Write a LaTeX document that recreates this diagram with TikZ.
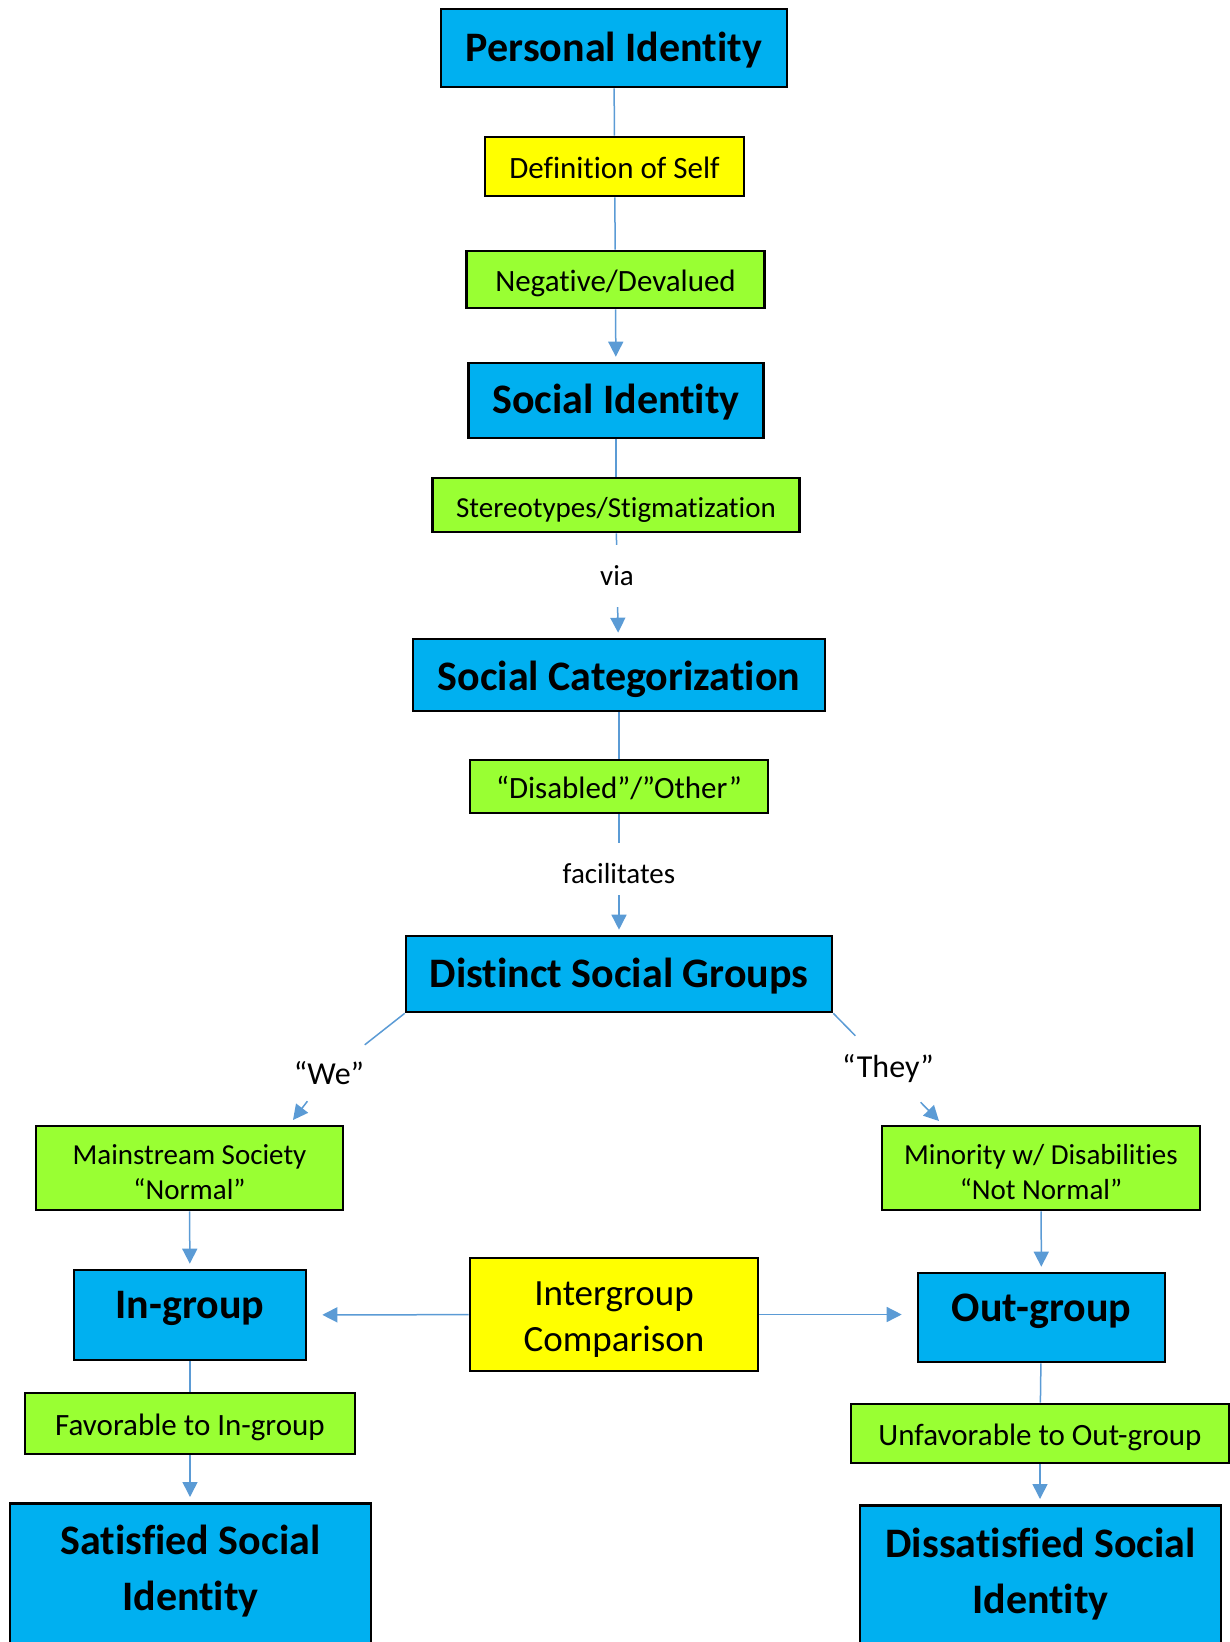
\documentclass[tikz,border=0pt]{standalone}
\usepackage{fontspec}
\setmainfont{Carlito}[Ligatures=CommonOff, RawFeature={-liga;-clig}]
\usetikzlibrary{arrows.meta}

\newlength{\du}
\setlength{\du}{1pt}

\definecolor{boxblue}{rgb}{0.000000, 0.690196, 0.941176}
\definecolor{boxgreen}{rgb}{0.600000, 1.000000, 0.200000}
\definecolor{boxyellow}{rgb}{1.000000, 1.000000, 0.000000}
\definecolor{linkblue}{rgb}{0.356863, 0.607843, 0.835294}

\tikzset{
  framebox/.style={draw=black, line width=2.600000\du, inner sep=0pt, align=center},
  bluebox/.style={framebox, fill=boxblue, font=\fontsize{42}{56}\selectfont\bfseries, text height=34\du, text depth=8\du},
  greenbox/.style={framebox, fill=boxgreen, font=\fontsize{31}{37}\selectfont, text height=30\du, text depth=6\du},
  smallgreenbox/.style={framebox, fill=boxgreen, font=\fontsize{29}{35}\selectfont, text height=29\du, text depth=5\du},
  yellowbox/.style={framebox, fill=boxyellow, font=\fontsize{31}{37}\selectfont, text height=30\du, text depth=6\du},
  linktext/.style={inner sep=0pt, align=center, font=\fontsize{29}{36}\selectfont},
  bigtext/.style={inner sep=0pt, align=center, font=\fontsize{42}{56}\selectfont\bfseries},
  plainline/.style={draw=linkblue, line width=1.500000\du},
  arrowline/.style={plainline, -{Triangle[length=15pt,width=15pt]}, shorten >=5\du},
}
% lifts the first line of a two-line box
\newcommand{\firstline}[1]{\rule{0pt}{#1\du}}

\begin{document}
\begin{tikzpicture}
\pgftransformxscale{1.000000}
\pgftransformyscale{-1.000000}
\useasboundingbox (0\du,0\du) rectangle (1230.000000\du,1642.000000\du);

% centre column
\node[bluebox, minimum width=346\du, minimum height=78\du] (personal) at (614.000000\du,48.000000\du){Personal Identity};
\node[yellowbox, minimum width=259\du, minimum height=59\du] (selfdef) at (614.500000\du,166.500000\du){Definition of Self};
\node[greenbox, minimum width=298\du, minimum height=57\du] (negative) at (615.500000\du,279.500000\du){Negative/Devalued};
\node[bluebox, minimum width=295\du, minimum height=75\du] (social) at (616.000000\du,400.500000\du){Social Identity};
\node[smallgreenbox, minimum width=367\du, minimum height=54\du] (stereo) at (616.000000\du,505.000000\du){Stereotypes/Stigmatization};
\node[linktext, minimum width=40\du, minimum height=62\du] (via) at (617.000000\du,576.000000\du){via};
\node[bluebox, text height=36\du, text depth=6\du, minimum width=412\du, minimum height=72\du] (categ) at (619.000000\du,675.000000\du){Social Categorization};
\node[greenbox, minimum width=298\du, minimum height=53\du] (disabled) at (619.000000\du,786.500000\du){“Disabled”/”Other”};
\node[linktext, minimum width=120\du, minimum height=52\du, text height=32\du, text depth=4\du] (facil) at (619.000000\du,869.000000\du){facilitates};
\node[bluebox, minimum width=426\du, minimum height=76\du] (distinct) at (619.000000\du,974.000000\du){Distinct Social Groups};

% branch labels
\node[linktext, font=\fontsize{32}{38}\selectfont, minimum width=90\du, minimum height=56\du] (we) at (329.000000\du,1073.000000\du){“We”};
\node[linktext, font=\fontsize{32}{38}\selectfont, minimum width=100\du, minimum height=66\du] (they) at (888.000000\du,1069.000000\du){“They”};
\coordinate (wetip) at (293.000000\du,1120.000000\du);
\coordinate (theytip) at (939.000000\du,1121.000000\du);

% left side
\node[smallgreenbox, text height=, text depth=, minimum width=307\du, minimum height=84\du] (mainstream) at (189.500000\du,1168.000000\du){\firstline{29}Mainstream Society\\“Normal”};
\node[bluebox, text height=30\du, text depth=23\du, minimum width=232\du, minimum height=90\du] (ingroup) at (190.000000\du,1315.000000\du){In-group};
\node[greenbox, minimum width=330\du, minimum height=61\du] (favor) at (190.000000\du,1423.500000\du){Favorable to In-group};
\node[bluebox, minimum width=361\du, minimum height=200\du, anchor=north] (satisfied) at (190.500000\du,1502.000000\du){};
\node[bigtext] (satlbl) at (190.500000\du,1571.000000\du){Satisfied Social\\Identity};

% middle
\node[yellowbox, text height=, text depth=, font=\fontsize{37}{46}\selectfont, minimum width=288\du, minimum height=113\du] (inter) at (614.000000\du,1314.500000\du){\firstline{33}Intergroup\\Comparison};

% right side
\node[smallgreenbox, text height=, text depth=, minimum width=318\du, minimum height=84\du] (minority) at (1041.000000\du,1168.000000\du){\firstline{29}Minority w/ Disabilities\\“Not Normal”};
\node[bluebox, text height=30\du, text depth=23\du, minimum width=247\du, minimum height=89\du] (outgroup) at (1041.500000\du,1317.500000\du){Out-group};
\node[greenbox, minimum width=378\du, minimum height=59\du] (unfavor) at (1040.000000\du,1433.500000\du){Unfavorable to Out-group};
\node[bluebox, minimum width=361\du, minimum height=200\du, anchor=north] (dissat) at (1040.500000\du,1504.000000\du){};
\node[bigtext] (dissatlbl) at (1040.500000\du,1574.000000\du){Dissatisfied Social\\Identity};

% connectors
\draw[plainline] (personal) -- (selfdef);
\draw[plainline] (selfdef) -- (negative);
\draw[arrowline] (negative) -- (social);
\draw[plainline] (social) -- (stereo);
\draw[plainline] (stereo) -- (via);
\draw[arrowline] (via) -- (categ);
\draw[plainline] (categ) -- (disabled);
\draw[plainline] (disabled) -- (facil);
\draw[arrowline] (facil) -- (distinct);
\draw[plainline] (distinct.south west) -- (we);
\draw[arrowline, shorten >=0pt] (we) -- (wetip);
\draw[plainline] (distinct.south east) -- (they);
\draw[arrowline, shorten >=0pt] (they) -- (theytip);
\draw[arrowline] (mainstream) -- (ingroup);
\draw[plainline] (ingroup) -- (favor);
\draw[arrowline] (favor) -- (favor.south |- satisfied.north);
\draw[arrowline] (minority) -- (outgroup);
\draw[plainline] (outgroup) -- (unfavor);
\draw[arrowline] (unfavor) -- (unfavor.south |- dissat.north);
\draw[arrowline, shorten >=15\du] (inter) -- (ingroup);
\draw[arrowline, shorten >=15\du] (inter.east) -- (inter.east -| outgroup.west);
\end{tikzpicture}
\end{document}
